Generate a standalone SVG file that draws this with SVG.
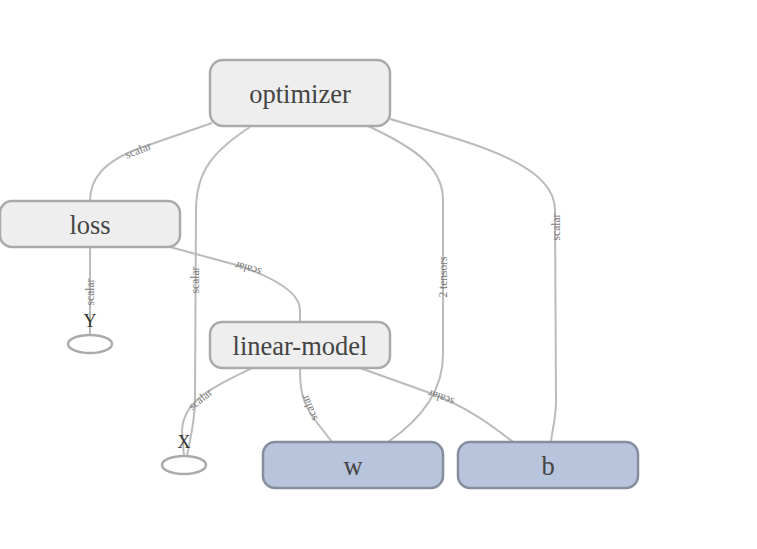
<svg xmlns="http://www.w3.org/2000/svg" width="757" height="549" viewBox="0 0 757 549">
<style>
.edge{fill:none;stroke:#bbbbbb;stroke-width:2}
.elab{font-family:"Liberation Serif",serif;font-size:11.5px;fill:#777777;text-anchor:middle;dominant-baseline:central}
.op rect{fill:#eeeeee;stroke:#aaaaaa;stroke-width:2.5}
.var rect{fill:#b8c4dc;stroke:#868d9c;stroke-width:2.5}
.ntext{font-family:"Liberation Serif",serif;font-size:26.5px;fill:#444444;text-anchor:middle;dominant-baseline:central}
.ph ellipse{fill:#ffffff;stroke:#aaaaaa;stroke-width:2.5}
.ph text{font-family:"Liberation Serif",serif;font-size:18px;fill:#333333;text-anchor:middle;dominant-baseline:central}
</style>
<rect width="757" height="549" fill="#ffffff"/>
<g id="connectors">
  <path class="edge" d="M212,123 L140,148 C102,162 90,180 90,201"/>
  <path class="edge" d="M250,127 C215,150 196,170 196,210 L195,400 C195,420 190,440 187,456"/>
  <path class="edge" d="M170,247 L240,266 C280,280 300,295 300,310 L300,322"/>
  <path class="edge" d="M90,247 L90,335"/>
  <path class="edge" d="M252,368 C215,386 182,400 182,432 L184,456"/>
  <path class="edge" d="M300,368 C300,390 302,402 315,420 L332,442"/>
  <path class="edge" d="M360,368 L430,393 C470,408 495,428 513,442"/>
  <path class="edge" d="M368,126 C420,150 443,170 443,200 L443,355 C443,392 420,420 388,442"/>
  <path class="edge" d="M390,119 C480,145 555,165 555,210 L556,400 C556,420 552,430 551,442"/>
  <text class="elab" transform="translate(138,150) rotate(-22)">scalar</text>
  <text class="elab" transform="translate(195,280) rotate(-90)">scalar</text>
  <text class="elab" transform="translate(248,269) rotate(196)">scalar</text>
  <text class="elab" transform="translate(90,292) rotate(-90)">scalar</text>
  <text class="elab" transform="translate(200,399) rotate(-38)">scalar</text>
  <text class="elab" transform="translate(309,408) rotate(248)">scalar</text>
  <text class="elab" transform="translate(441,398) rotate(200)">scalar</text>
  <text class="elab" transform="translate(443,277) rotate(-90)">2 tensors</text>
  <text class="elab" transform="translate(556,227) rotate(-90)">scalar</text>
</g>
<g id="optimizer" class="op">
  <rect x="210" y="60" width="180" height="66" rx="13"/>
  <text class="ntext" x="300" y="94">optimizer</text>
</g>
<g id="loss" class="op">
  <rect x="0" y="201" width="180" height="46" rx="12"/>
  <text class="ntext" x="90" y="225">loss</text>
</g>
<g id="linear-model" class="op">
  <rect x="210" y="322" width="180" height="46" rx="12"/>
  <text class="ntext" x="300" y="346">linear-model</text>
</g>
<g id="w" class="var">
  <rect x="263" y="442" width="180" height="46" rx="12"/>
  <text class="ntext" x="353" y="466">w</text>
</g>
<g id="b" class="var">
  <rect x="458" y="442" width="180" height="46" rx="12"/>
  <text class="ntext" x="548" y="466">b</text>
</g>
<g id="Y" class="ph">
  <ellipse cx="90" cy="344" rx="22" ry="9"/>
  <text x="90" y="321">Y</text>
</g>
<g id="X" class="ph">
  <ellipse cx="184" cy="465" rx="22" ry="9"/>
  <text x="184" y="442">X</text>
</g>
</svg>
